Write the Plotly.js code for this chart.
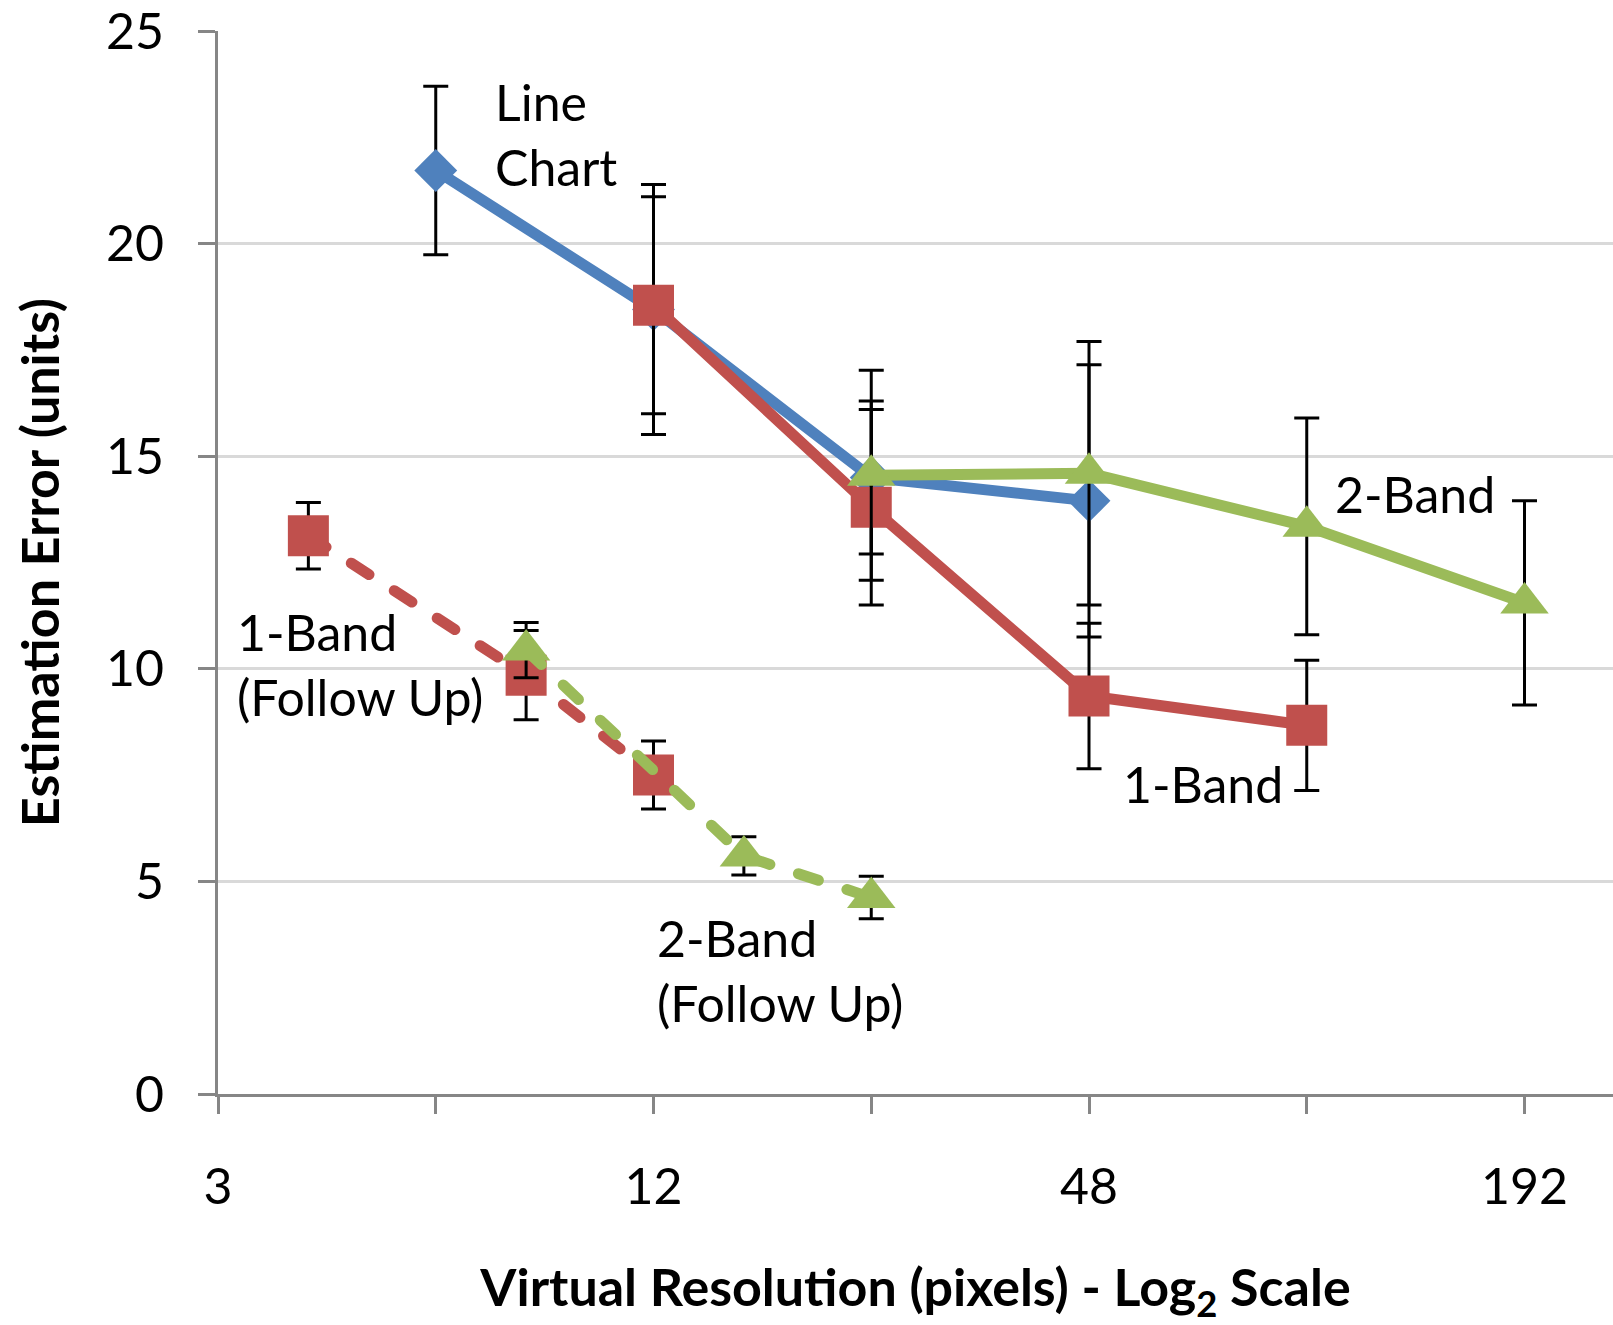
<!DOCTYPE html>
<html>
<head>
<meta charset="utf-8">
<script src="https://cdn.plot.ly/plotly-3.0.1.min.js"></script>
<style>
  html, body { margin: 0; padding: 0; background: #ffffff; }
  #chart { width: 1613px; height: 1325px; }
  path.js-line { stroke-linecap: round; stroke-linejoin: round; }
</style>
</head>
<body>
<div id="chart"></div>
<script>
// ---- data ----
const xTickValues = [3, 12, 48, 192];
const xTickLabels = ['3', '12', '48', '192'];
const xMinorTickValues = [6, 24, 96];
const yTickValues = [0, 5, 10, 15, 20, 25];

const lineChartX = [6, 12, 24, 48];
const lineChartY = [21.72, 18.45, 14.5, 13.95];
const lineChartErr = [1.98, 2.94, 1.8, 3.2];

const band1X = [12, 24, 48, 96];
const band1Y = [18.55, 13.8, 9.36, 8.67];
const band1Err = [2.55, 2.3, 1.71, 1.53];

const band2X = [24, 48, 96, 192];
const band2Y = [14.55, 14.6, 13.35, 11.55];
const band2Err = [2.47, 3.1, 2.55, 2.4];

const band1FollowX = [4, 8, 12];
const band1FollowY = [13.13, 9.85, 7.5];
const band1FollowErr = [0.78, 1.05, 0.8];

const band2FollowX = [8, 16, 24];
const band2FollowY = [10.44, 5.6, 4.62];
const band2FollowErr = [0.65, 0.45, 0.5];

const seriesLabels = {
  lineChart: 'Line<br>Chart',
  band2: '2-Band',
  band1: '1-Band',
  band1Follow: '1-Band<br>(Follow Up)',
  band2Follow: '2-Band<br>(Follow Up)'
};

// ---- styles ----
const BLUE = '#4F81BD', RED = '#C0504D', GREEN = '#9BBB59';
const FONT = 'Lato, "Open Sans", sans-serif';
const LW = 11;
const DASH = '21px,30px';

function err(arr) {
  return { type: 'data', array: arr, visible: true, color: '#000000', thickness: 3, width: 12.5 };
}

function series(x, y, e, color, symbol, size, dash) {
  return {
    type: 'scatter', mode: 'lines+markers', x: x, y: y,
    error_y: err(e),
    line: { color: color, width: LW, dash: dash || 'solid' },
    marker: { color: color, symbol: symbol, size: size, line: { width: 0 } },
    cliponaxis: false,
    hoverinfo: 'skip'
  };
}

const traces = [
  series(lineChartX, lineChartY, lineChartErr, BLUE, 'diamond', 33),
  series(band1X, band1Y, band1Err, RED, 'square', 41),
  series(band2X, band2Y, band2Err, GREEN, 'triangle-up', 42),
  series(band1FollowX, band1FollowY, band1FollowErr, RED, 'square', 41, DASH),
  series(band2FollowX, band2FollowY, band2FollowErr, GREEN, 'triangle-up', 42, DASH)
];

// ---- layout ----
const L = 218, R = 1613, T = 31, B = 1094, W = 1613, H = 1325;
const xMin = 3;
const octavePx = 217.75;
const xMaxLog = Math.log10(xMin) + ((R - L) / octavePx) * Math.log10(2);

function px(xp) { return (xp - L) / (R - L); }
function py(yp) { return (B - yp) / (B - T); }

function label(text, xp, yp) {
  return {
    text: text, xref: 'paper', yref: 'paper', x: px(xp), y: py(yp),
    xanchor: 'left', yanchor: 'top', align: 'left', showarrow: false,
    font: { family: FONT, size: 50, color: '#000000' }
  };
}

const layout = {
  width: W, height: H,
  margin: { l: L, r: W - R, t: T, b: H - B, pad: 0 },
  paper_bgcolor: '#ffffff', plot_bgcolor: '#ffffff',
  showlegend: false,
  font: { family: FONT, size: 48, color: '#000000' },
  xaxis: {
    type: 'log',
    range: [Math.log10(xMin), xMaxLog],
    tickmode: 'array', tickvals: xTickValues, ticktext: xTickLabels,
    ticks: 'outside', ticklen: 17, tickwidth: 3, tickcolor: '#868686',
    minor: { tickmode: 'array', tickvals: xMinorTickValues, ticks: 'outside',
             ticklen: 17, tickwidth: 3, tickcolor: '#868686', showgrid: false },
    showline: true, linecolor: '#868686', linewidth: 3,
    showgrid: false, zeroline: false,
    tickfont: { family: FONT, size: 50, color: '#000000' },
    ticklabelstandoff: 30,
    ticklabeloverflow: 'allow',
    title: { text: 'Virtual Resolution (pixels) - Log<sub>2</sub> Scale',
             font: { family: FONT, size: 52, color: '#000000', weight: 'bold' },
             standoff: 68 }
  },
  yaxis: {
    range: [0, 25],
    tickmode: 'array', tickvals: yTickValues,
    ticks: 'outside', ticklen: 17, tickwidth: 3, tickcolor: '#868686',
    showline: true, linecolor: '#868686', linewidth: 3,
    showgrid: true, gridcolor: '#D9D9D9', gridwidth: 3,
    zeroline: false,
    tickfont: { family: FONT, size: 50, color: '#000000' },
    ticklabelstandoff: 24,
    ticklabeloverflow: 'allow',
    title: { text: 'Estimation Error (units)',
             font: { family: FONT, size: 52, color: '#000000', weight: 'bold' },
             standoff: 30 }
  },
  annotations: [
    label(seriesLabels.lineChart, 493, 70),
    label(seriesLabels.band2, 1333, 462),
    label(seriesLabels.band1, 1121, 752),
    label(seriesLabels.band1Follow, 235, 600),
    label(seriesLabels.band2Follow, 655, 906)
  ]
};

Plotly.newPlot('chart', traces, layout, { staticPlot: true, displayModeBar: false });
</script>
</body>
</html>
